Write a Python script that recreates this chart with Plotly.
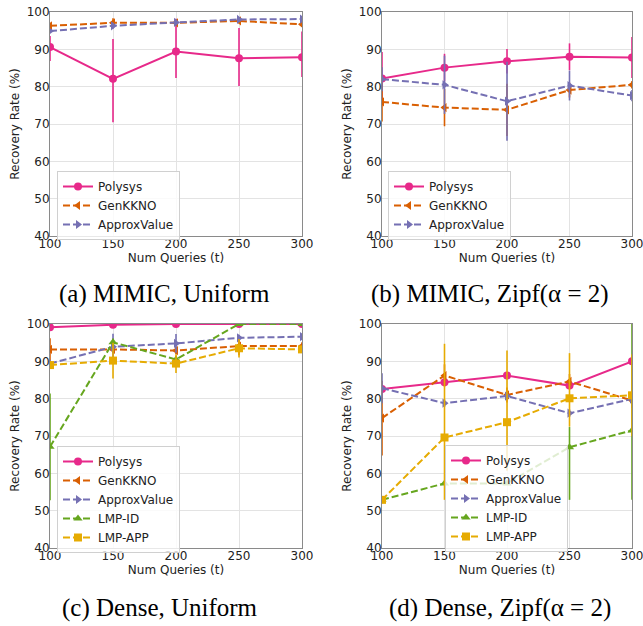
import plotly.graph_objects as go

X = [100, 150, 200, 250, 300]
TICKS_X = [100, 150, 200, 250, 300]
TICKS_Y = [40, 50, 60, 70, 80, 90, 100]

NAMES = ["Polysys", "GenKKNO", "ApproxValue", "LMP-ID", "LMP-APP"]
COLORS = ["#e7298a", "#d95f02", "#7570b3", "#66a61e", "#e6ab02"]
SYMBOLS = ["circle", "triangle-left", "triangle-right", "triangle-up", "square"]
DASHES = ["solid", "7px,3px", "7px,3px", "7px,3px", "7px,3px"]

# Panel (a) MIMIC, Uniform
A_POLY = [90.6, 82.1, 89.4, 87.6, 87.9]
A_POLY_UP = [3.0, 10.7, 8.8, 8.1, 6.9]
A_POLY_DN = [3.7, 11.6, 7.1, 7.4, 5.3]
A_GEN = [96.3, 97.1, 97.1, 97.6, 96.7]
A_GEN_ERR = [0.5, 1.2, 0.6, 0.6, 0.7]
A_APX = [94.9, 96.3, 97.2, 98.0, 98.1]
A_APX_ERR = [0.5, 0.8, 0.8, 0.5, 0.5]

# Panel (b) MIMIC, Zipf
B_POLY = [82.2, 85.1, 86.8, 88.0, 87.8]
B_POLY_ERR = [7.1, 3.7, 3.3, 3.6, 5.5]
B_GEN = [75.9, 74.4, 73.8, 79.1, 80.5]
B_GEN_ERR = [5.2, 5.0, 7.0, 2.0, 1.0]
B_APX = [82.0, 80.5, 76.1, 80.3, 77.6]
B_APX_ERR = [3.2, 7.8, 10.6, 4.0, 1.5]

# Panel (c) Dense, Uniform
C_POLY = [99.1, 99.8, 100.0, 100.0, 100.0]
C_POLY_ERR = [0.5, 0.2, 0.0, 0.0, 0.0]
C_GEN = [93.2, 93.2, 92.9, 94.1, 94.1]
C_GEN_ERR = [3.0, 1.0, 1.0, 2.5, 1.0]
C_APX = [89.4, 93.9, 94.8, 96.3, 96.6]
C_APX_ERR = [1.0, 3.5, 2.5, 0.8, 0.8]
C_LMPID = [67.1, 95.1, 90.5, 100.0, 100.0]
C_LMPID_ERR = [14.3, 1.0, 1.0, 0.0, 0.0]
C_LMPAPP = [89.0, 90.2, 89.4, 93.5, 93.2]
C_LMPAPP_ERR = [1.0, 4.8, 2.5, 2.5, 1.0]

# Panel (d) Dense, Zipf
D_POLY = [82.6, 84.4, 86.2, 83.5, 90.0]
D_POLY_ERR = [1.0, 1.0, 1.0, 1.0, 1.0]
D_GEN = [74.8, 86.2, 81.0, 84.6, 79.5]
D_GEN_ERR = [10.0, 3.0, 2.0, 2.0, 2.0]
D_APX = [82.8, 78.8, 80.7, 76.1, 79.9]
D_APX_ERR = [4.0, 1.0, 1.0, 1.0, 1.0]
D_LMPID = [52.9, 57.3, 57.3, 67.0, 71.5]
D_LMPID_UP = [0.0, 0.0, 0.0, 5.4, 28.5]
D_LMPID_DN = [0.0, 0.0, 0.0, 14.1, 18.6]
D_LMPAPP = [52.9, 69.6, 73.7, 80.1, 80.9]
D_LMPAPP_UP = [0.0, 25.1, 19.2, 12.1, 11.0]
D_LMPAPP_DN = [0.0, 16.7, 13.0, 7.6, 11.0]

CAPTIONS = ["(a) MIMIC, Uniform", "(b) MIMIC, Zipf(\u03b1 = 2)",
            "(c) Dense, Uniform", "(d) Dense, Zipf(\u03b1 = 2)"]

W, H = 643, 626
# plot areas in pixels: (left, right, top, bottom)
AREAS = [(50, 302, 12, 236), (382, 632, 12, 236),
         (50, 302, 324, 548), (382, 632, 324, 548)]
LEGEND_POS = [(57, 171), (388, 171), (57, 446), (445, 445)]
CAPTION_POS = [(164, 294), (490, 294), (160, 608), (500, 608)]

panels = [
    [(A_POLY, A_POLY_UP, A_POLY_DN), (A_GEN, A_GEN_ERR, A_GEN_ERR), (A_APX, A_APX_ERR, A_APX_ERR)],
    [(B_POLY, B_POLY_ERR, B_POLY_ERR), (B_GEN, B_GEN_ERR, B_GEN_ERR), (B_APX, B_APX_ERR, B_APX_ERR)],
    [(C_POLY, C_POLY_ERR, C_POLY_ERR), (C_GEN, C_GEN_ERR, C_GEN_ERR), (C_APX, C_APX_ERR, C_APX_ERR),
     (C_LMPID, C_LMPID_ERR, C_LMPID_ERR), (C_LMPAPP, C_LMPAPP_ERR, C_LMPAPP_ERR)],
    [(D_POLY, D_POLY_ERR, D_POLY_ERR), (D_GEN, D_GEN_ERR, D_GEN_ERR), (D_APX, D_APX_ERR, D_APX_ERR),
     (D_LMPID, D_LMPID_UP, D_LMPID_DN), (D_LMPAPP, D_LMPAPP_UP, D_LMPAPP_DN)],
]

FONT = "DejaVu Sans"
fig = go.Figure()
layout = dict(width=W, height=H, margin=dict(l=0, r=0, t=0, b=0, autoexpand=False),
              paper_bgcolor="white", plot_bgcolor="white",
              font=dict(family=FONT, size=12, color="#222"), annotations=[])

for p, series in enumerate(panels):
    ax = "" if p == 0 else str(p + 1)
    leg = "legend" if p == 0 else "legend" + str(p + 1)
    for i, (vals, up, dn) in enumerate(series):
        fig.add_trace(go.Scatter(
            x=X, y=vals, name=NAMES[i], mode="lines+markers",
            xaxis="x" + ax, yaxis="y" + ax, legend=leg,
            line=dict(color=COLORS[i], width=2, dash=DASHES[i]),
            marker=dict(color=COLORS[i], symbol=SYMBOLS[i], size=8),
            error_y=dict(type="data", array=up, arrayminus=dn, symmetric=False,
                         color=COLORS[i], thickness=1.6, width=0),
        ))
    l, r, t, b = AREAS[p]
    axis_common = dict(showgrid=True, gridcolor="#e3e3e3", gridwidth=1,
                       showline=True, linecolor="#8a8a8a", linewidth=1, mirror=True,
                       zeroline=False, ticks="", automargin=False,
                       ticklabeloverflow="allow", ticklabelstandoff=-3,
                       tickfont=dict(size=12, color="#222"))
    layout["xaxis" + ax] = dict(domain=[l / W, r / W], range=[100, 300],
                                tickvals=TICKS_X, anchor="y" + ax,
                                title=dict(text="Num Queries (t)", font=dict(size=12), standoff=2),
                                **axis_common)
    layout["yaxis" + ax] = dict(domain=[1 - b / H, 1 - t / H], range=[40, 100],
                                tickvals=TICKS_Y, anchor="x" + ax,
                                title=dict(text="Recovery Rate (%)", font=dict(size=12), standoff=4),
                                **axis_common)
    lx, ly = LEGEND_POS[p]
    layout[leg] = dict(x=lx / W, y=1 - ly / H, xanchor="left", yanchor="top",
                       bgcolor="rgba(255,255,255,0.8)", bordercolor="#d0d0d0", borderwidth=1,
                       font=dict(size=12, family=FONT, color="#222"), tracegroupgap=0,
                       itemwidth=30)
    cx, cy = CAPTION_POS[p]
    layout["annotations"].append(dict(
        text=CAPTIONS[p], x=cx / W, y=1 - cy / H, xref="paper", yref="paper",
        xanchor="center", yanchor="middle", showarrow=False,
        font=dict(family="Liberation Serif", size=25, color="#000")))

fig.update_layout(**layout)
fig.write_html("out.html", config={"displayModeBar": False},
               post_script="document.body.style.margin='0';document.body.style.overflow='hidden';")
